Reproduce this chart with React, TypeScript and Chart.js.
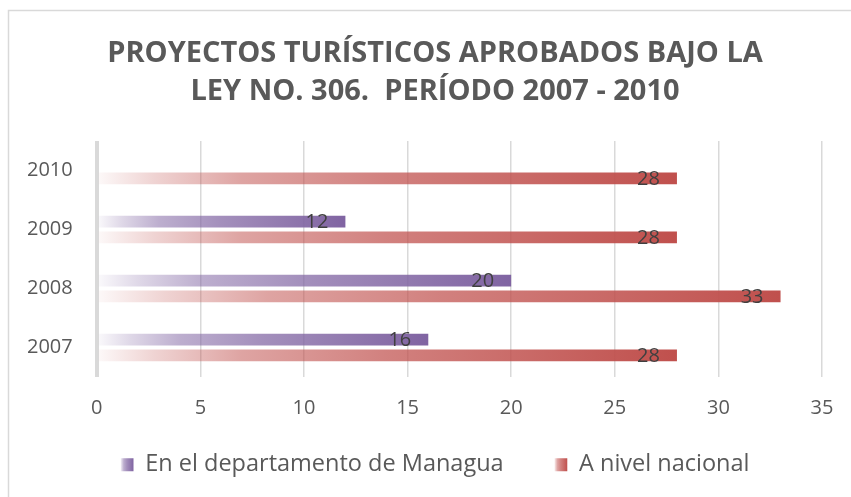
import React, { useEffect, useRef } from 'react';
import { Chart, registerables } from 'chart.js';

Chart.register(...registerables);

// ---- data ----
const categories = ['2010', '2009', '2008', '2007'];
const managuaValues: (number | null)[] = [null, 12, 20, 16];
const nacionalValues: number[] = [28, 28, 33, 28];
const seriesNames = ['En el departamento de Managua', 'A nivel nacional'];
const titleLines = ['PROYECTOS TURÍSTICOS APROBADOS BAJO LA', 'LEY NO. 306.  PERÍODO 2007 - 2010'];
const xMin = 0;
const xMax = 35;
const xStep = 5;

// ---- styles ----
const PURPLE = [128, 100, 162];
const RED = [192, 80, 77];
const STOPS: [number, number][] = [
  [0, 0.03],
  [0.1, 0.25],
  [0.25, 0.52],
  [0.5, 0.72],
  [0.75, 0.86],
  [1, 1],
];
const FONT = "'Open Sans', sans-serif";
const TEXT = '#595959';
const W = 880;
const H = 497;

function addStops(g: CanvasGradient, rgb: number[]) {
  STOPS.forEach(([t, a]) => g.addColorStop(t, `rgba(${rgb.join(',')},${a})`));
}

function barFill(rgb: number[]) {
  return (c: any) => {
    const chart = c.chart;
    const solid = `rgb(${rgb.join(',')})`;
    if (!chart.chartArea || c.type !== 'data' || c.raw == null) return solid;
    const xs = chart.scales.x;
    const x0 = xs.getPixelForValue(0);
    const x1 = xs.getPixelForValue(c.raw);
    const g = chart.ctx.createLinearGradient(x0, 0, x1, 0);
    addStops(g, rgb);
    return g;
  };
}

const decorPlugin = {
  id: 'decor',
  beforeDraw(chart: any) {
    const ctx = chart.ctx;
    ctx.save();
    ctx.fillStyle = '#ffffff';
    ctx.fillRect(0, 0, chart.width, chart.height);
    ctx.strokeStyle = '#d9d9d9';
    ctx.lineWidth = 1.5;
    ctx.strokeRect(8.5, 10.5, chart.width + 20, chart.height + 20);
    ctx.restore();
  },
  afterDatasetsDraw(chart: any) {
    const ctx = chart.ctx;
    ctx.save();
    ctx.font = `20px ${FONT}`;
    ctx.fillStyle = '#404040';
    ctx.textAlign = 'right';
    ctx.textBaseline = 'middle';
    chart.data.datasets.forEach((ds: any, di: number) => {
      const meta = chart.getDatasetMeta(di);
      meta.data.forEach((el: any, i: number) => {
        const v = ds.data[i];
        if (v == null) return;
        ctx.fillText(String(v), el.x - 17, el.y + 1);
      });
    });
    ctx.restore();
  },
  afterDraw(chart: any) {
    const lg = chart.legend;
    if (!lg || !lg.legendHitBoxes) return;
    const ctx = chart.ctx;
    ctx.save();
    lg.legendHitBoxes.forEach((hb: any, i: number) => {
      const rgb = i === 0 ? PURPLE : RED;
      const size = 13;
      const bx = hb.left;
      const by = hb.top + (hb.height - size) / 2;
      const g = ctx.createLinearGradient(bx, 0, bx + size, 0);
      addStops(g, rgb);
      ctx.fillStyle = g;
      ctx.fillRect(bx, by, size, size);
    });
    ctx.restore();
  },
};

export default function App() {
  const ref = useRef<HTMLCanvasElement | null>(null);

  useEffect(() => {
    if (!ref.current) return;
    const chart = new Chart(ref.current, {
      type: 'bar',
      data: {
        labels: categories,
        datasets: [
          {
            label: seriesNames[0],
            data: managuaValues,
            backgroundColor: barFill(PURPLE),
            borderWidth: 0,
            barPercentage: 0.745,
            categoryPercentage: 0.532,
          },
          {
            label: seriesNames[1],
            data: nacionalValues,
            backgroundColor: barFill(RED),
            borderWidth: 0,
            barPercentage: 0.745,
            categoryPercentage: 0.532,
          },
        ],
      },
      options: {
        indexAxis: 'y',
        responsive: false,
        devicePixelRatio: 1,
        animation: false,
        layout: { padding: { left: 3, right: 13, top: 0, bottom: 10.5 } },
        font: { family: FONT },
        scales: {
          x: {
            type: 'linear',
            min: xMin,
            max: xMax,
            border: { display: false },
            grid: {
              color: '#d9d9d9',
              lineWidth: (c: any) => (c.index === 0 ? 4 : 1.5),
              drawTicks: false,
            },
            ticks: {
              stepSize: xStep,
              padding: 19,
              color: TEXT,
              font: { family: FONT, size: 20 },
            },
          },
          y: {
            type: 'category',
            border: { display: false },
            grid: { display: false, drawTicks: false },
            ticks: {
              padding: 24,
              color: TEXT,
              font: { family: FONT, size: 20 },
            },
          },
          y2: {
            type: 'linear',
            position: 'right',
            display: true,
            border: { display: false },
            grid: { display: false, drawTicks: false },
            ticks: { display: false },
            afterFit: (s: any) => {
              s.width = 45;
            },
          },
        },
        plugins: {
          tooltip: { enabled: false },
          title: {
            display: true,
            text: titleLines,
            color: TEXT,
            font: { family: FONT, size: 29, weight: 'bold', lineHeight: 1.31 },
            padding: { top: 35, bottom: 30 },
          },
          legend: {
            display: true,
            position: 'bottom',
            labels: {
              color: TEXT,
              font: { family: FONT, size: 23.5 },
              boxWidth: 13,
              boxHeight: 13,
              padding: 14,
              generateLabels: (ch: any) =>
                Chart.defaults.plugins.legend.labels
                  .generateLabels(ch)
                  .map((l: any, i: number) => ({
                    ...l,
                    text: i === 0 ? l.text + '      ' : l.text,
                    fillStyle: 'rgba(0,0,0,0)',
                    strokeStyle: 'rgba(0,0,0,0)',
                    lineWidth: 0,
                  })),
            },
          },
        },
      } as any,
      plugins: [decorPlugin],
    });
    return () => chart.destroy();
  }, []);

  return (
    <div
      style={{
        position: 'fixed',
        left: 0,
        top: 0,
        width: 851,
        height: 497,
        overflow: 'hidden',
        background: '#fff',
      }}
    >
      <canvas ref={ref} width={W} height={H} style={{ display: 'block', width: W, height: H }} />
    </div>
  );
}
